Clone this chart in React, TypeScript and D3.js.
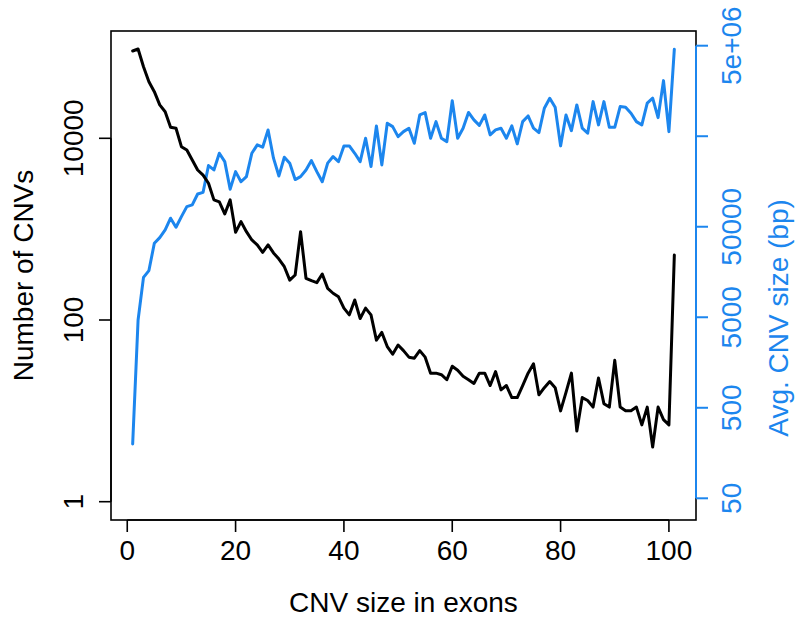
import React from "react";
import * as d3 from "d3";

const exons: number[] = d3.range(1, 102);

const cnvCounts: number[] = [
  91400, 96200, 61400, 42000, 32600, 23300, 19600, 13200, 12900, 8090,
  7430, 5770, 4480, 3940, 3200, 2100, 2000, 1470, 2100, 923,
  1210, 938, 760, 670, 556, 670, 547, 469, 386, 275,
  313, 938, 288, 271, 258, 321, 223, 197, 180, 135,
  114, 166, 104, 135, 114, 60, 73, 51, 42, 53,
  46, 39, 38, 46, 39, 26, 26, 25, 22, 31,
  28, 24, 22, 20, 26, 26, 19, 27, 17, 19,
  14, 14, 19, 26, 33, 15, 18, 21, 18, 10,
  16, 26, 6, 14, 13, 11, 23, 12, 11, 36,
  11, 10, 10, 11, 7, 11, 4, 11, 8, 7,
  520,
];

const avgSizes: number[] = [
  199, 4670, 13800, 16400, 32900, 37900, 46100, 62100, 49300, 64700,
  83400, 87100, 115000, 120000, 237000, 212000, 324000, 262000, 130000, 203000,
  157000, 179000, 324000, 401000, 378000, 587000, 286000, 182000, 293000, 252000,
  166000, 179000, 212000, 269000, 203000, 157000, 252000, 298000, 262000, 391000,
  391000, 324000, 262000, 475000, 231000, 650000, 241000, 696000, 638000, 495000,
  562000, 613000, 418000, 859000, 911000, 475000, 725000, 475000, 436000, 1236000,
  475000, 613000, 916000, 757000, 658000, 859000, 517000, 587000, 613000, 475000,
  650000, 411000, 725000, 838000, 613000, 548000, 1019000, 1315000, 1045000, 391000,
  859000, 576000, 1109000, 613000, 539000, 1205000, 667000, 1205000, 628000, 628000,
  1062000, 1045000, 898000, 725000, 667000, 1158000, 1315000, 803000, 2056000, 562000,
  4573000,
];

const xTicks: number[] = [0, 20, 40, 60, 80, 100];
const leftTicks: number[] = [1, 100, 10000];
const leftTickLabels: string[] = ["1", "100", "10000"];
const rightTicks: number[] = [50, 500, 5000, 50000, 500000, 5000000];
const rightTickLabels: string[] = ["50", "500", "5000", "50000", "", "5e+06"];

const xTitle = "CNV size in exons";
const leftTitle = "Number of CNVs";
const rightTitle = "Avg. CNV size (bp)";

const W = 795;
const H = 619;
const box = { left: 111, top: 31, right: 696, bottom: 520 };
const BLUE = "#1C86EE";
const FONT = "'Liberation Sans', Arial, Helvetica, sans-serif";
const FS = 28;

export default function App() {
  const x = d3.scaleLinear().domain([-3, 105]).range([box.left, box.right]);
  const yL = d3.scaleLog().domain([1, 10000]).range([501.7, 138.3]);
  const yR = d3.scaleLog().domain([50, 5e6]).range([498.3, 45.7]);

  const blackLine = d3
    .line<number>()
    .x((_, i) => x(exons[i]))
    .y((d) => yL(d))(cnvCounts) as string;
  const blueLine = d3
    .line<number>()
    .x((_, i) => x(exons[i]))
    .y((d) => yR(d))(avgSizes) as string;

  const tick = 12;

  return (
    <svg
      width={W}
      height={H}
      viewBox={`0 0 ${W} ${H}`}
      style={{ position: "absolute", left: 0, top: 0, background: "#fff" }}
      fontFamily={FONT}
    >
      <rect x={0} y={0} width={W} height={H} fill="#fff" />
      <path d={blueLine} fill="none" stroke={BLUE} strokeWidth={3} strokeLinejoin="round" strokeLinecap="round" />
      <path d={blackLine} fill="none" stroke="#000" strokeWidth={3} strokeLinejoin="round" strokeLinecap="round" />
      <rect
        x={box.left}
        y={box.top}
        width={box.right - box.left}
        height={box.bottom - box.top}
        fill="none"
        stroke="#000"
        strokeWidth={1.6}
      />
      {/* x axis */}
      <line x1={x(xTicks[0])} x2={x(xTicks[xTicks.length - 1])} y1={box.bottom} y2={box.bottom} stroke="#000" strokeWidth={1.6} />
      {xTicks.map((t) => (
        <g key={"xt" + t}>
          <line x1={x(t)} x2={x(t)} y1={box.bottom} y2={box.bottom + tick} stroke="#000" strokeWidth={1.6} />
          <text x={x(t)} y={560} fontSize={FS} textAnchor="middle" fill="#000">
            {t}
          </text>
        </g>
      ))}
      <text x={(box.left + box.right) / 2} y={612} fontSize={FS} textAnchor="middle" fill="#000">
        {xTitle}
      </text>
      {/* left axis */}
      <line x1={box.left} x2={box.left} y1={yL(1)} y2={yL(10000)} stroke="#000" strokeWidth={1.6} />
      {leftTicks.map((t, i) => (
        <g key={"yl" + t}>
          <line x1={box.left - tick} x2={box.left} y1={yL(t)} y2={yL(t)} stroke="#000" strokeWidth={1.6} />
          <text
            transform={`translate(83,${yL(t)}) rotate(-90)`}
            fontSize={FS}
            textAnchor="middle"
            fill="#000"
          >
            {leftTickLabels[i]}
          </text>
        </g>
      ))}
      <text transform={`translate(33,${(box.top + box.bottom) / 2}) rotate(-90)`} fontSize={FS} textAnchor="middle" fill="#000">
        {leftTitle}
      </text>
      {/* right axis */}
      <line x1={box.right} x2={box.right} y1={yR(50)} y2={yR(5e6)} stroke={BLUE} strokeWidth={2} />
      {rightTicks.map((t, i) => (
        <g key={"yr" + t}>
          <line x1={box.right} x2={box.right + tick} y1={yR(t)} y2={yR(t)} stroke={BLUE} strokeWidth={2} />
          {rightTickLabels[i] && (
            <text
              transform={`translate(741,${yR(t)}) rotate(-90)`}
              fontSize={FS}
              textAnchor="middle"
              fill={BLUE}
            >
              {rightTickLabels[i]}
            </text>
          )}
        </g>
      ))}
      <text transform={`translate(788,318) rotate(-90)`} fontSize={FS} textAnchor="middle" fill={BLUE}>
        {rightTitle}
      </text>
    </svg>
  );
}
